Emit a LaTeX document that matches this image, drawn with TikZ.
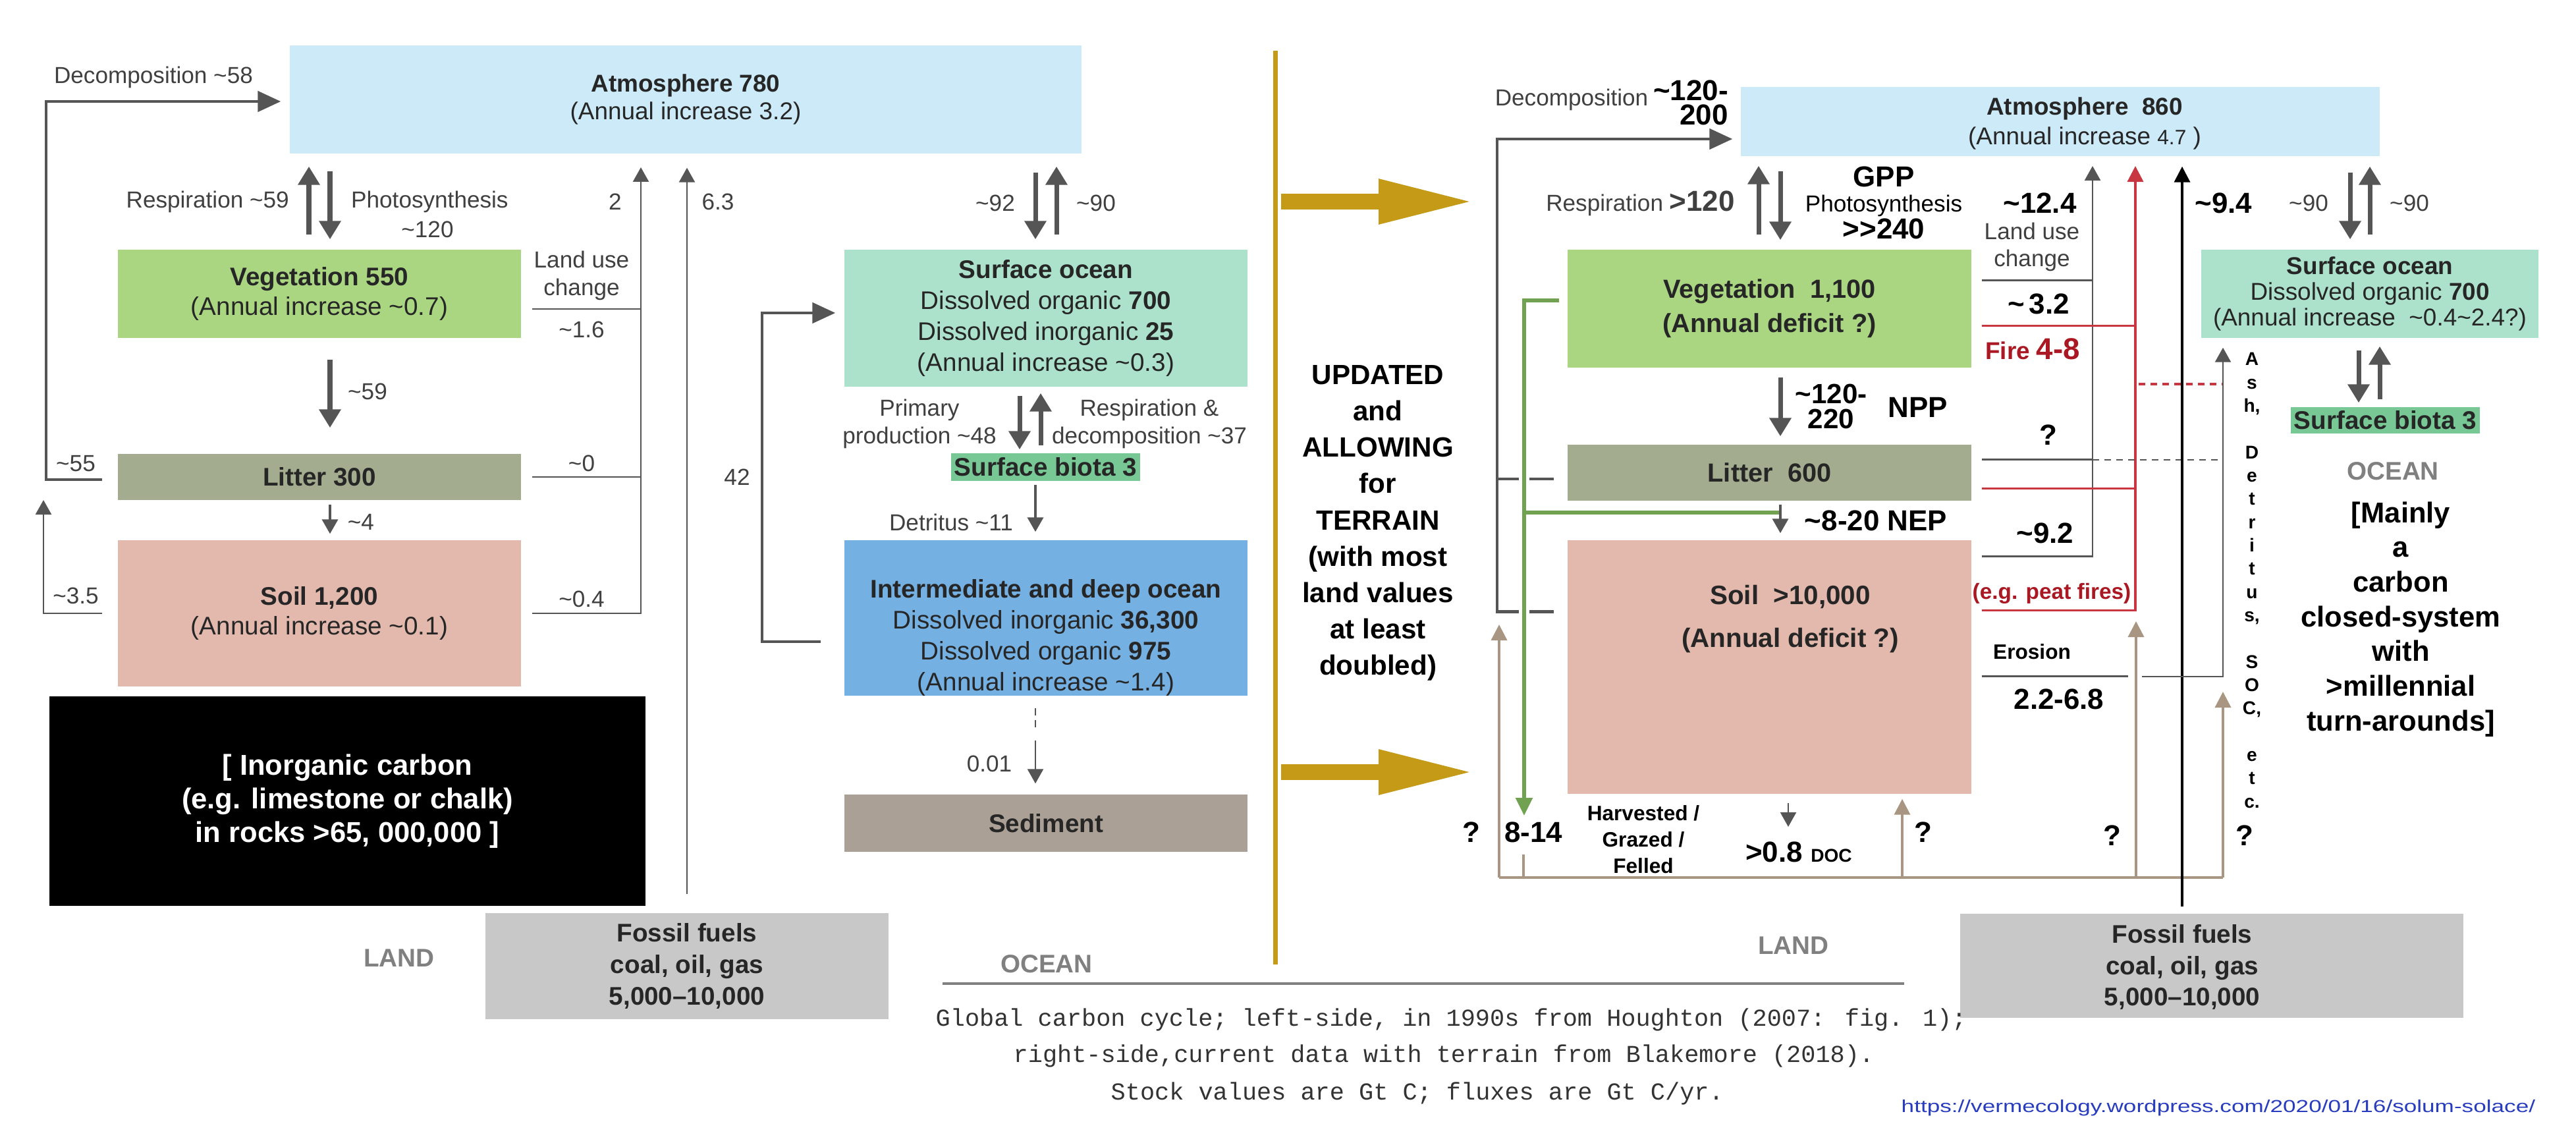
\documentclass[tikz,border=0pt]{standalone}
\usepackage{fontspec}
\setmainfont{Liberation Sans}
\newfontfamily\capfont{Liberation Mono}
\usetikzlibrary{arrows.meta}
\newcommand{\apx}{\textasciitilde}
\definecolor{atmblue}{RGB}{204,234,247}
\definecolor{veggreen}{RGB}{170,214,130}
\definecolor{littergreen}{RGB}{163,172,142}
\definecolor{soilpink}{RGB}{226,185,172}
\definecolor{surfmint}{RGB}{172,226,204}
\definecolor{biotagreen}{RGB}{120,200,150}
\definecolor{deepblue}{RGB}{116,176,226}
\definecolor{sedtan}{RGB}{170,160,150}
\definecolor{fossilgray}{RGB}{200,200,200}
\definecolor{arrowgray}{RGB}{85,85,85}
\definecolor{firered}{RGB}{200,55,65}
\definecolor{firetext}{RGB}{170,25,35}
\definecolor{tanbrown}{RGB}{168,150,130}
\definecolor{leafgreen}{RGB}{112,162,82}
\definecolor{goldtone}{RGB}{196,154,22}
\definecolor{regiongray}{RGB}{128,128,128}
\definecolor{urlblue}{RGB}{40,60,190}
\begin{document}
\begin{tikzpicture}[
    stock/.style={rectangle, inner sep=0pt, align=center, text=black!85},
    lab/.style={font=\fontsize{10}{12}\selectfont, text=black!75, inner sep=1pt},
    num/.style={font=\bfseries\fontsize{12.5}{14}\selectfont, inner sep=1pt},
    region/.style={font=\bfseries\fontsize{11}{13}\selectfont, text=regiongray},
    flowline/.style={draw=arrowgray, line width=0.7pt},
    flow/.style={flowline, -{Triangle[length=2.2mm,width=2.4mm]}},
    midflow/.style={draw=arrowgray, line width=1.1pt, -{Triangle[length=2.2mm,width=2.4mm]}},
    bigflow/.style={draw=arrowgray, line width=2pt, -{Triangle[length=2.8mm,width=3.2mm]}},
    loopline/.style={draw=arrowgray, line width=1.4pt},
    loopflow/.style={loopline, -{Triangle[length=3.5mm,width=3.1mm]}},
    leafline/.style={draw=leafgreen, line width=1.5pt},
    leafflow/.style={leafline, -{Triangle[length=2.7mm,width=2.5mm]}},
    tanline/.style={draw=tanbrown, line width=1pt},
    tanflow/.style={tanline, -{Triangle[length=2.4mm,width=2.4mm]}},
    fireline/.style={draw=firered, line width=1pt},
    fireflow/.style={fireline, -{Triangle[length=2.4mm,width=2.4mm]}},
    fossflow/.style={draw=black, line width=1pt, -{Triangle[length=2.4mm,width=2.4mm]}},
    goldline/.style={draw=goldtone, line width=2pt},
    goldflow/.style={draw=goldtone, line width=0.24cm, -{Triangle[length=1.47cm,width=0.62cm]}},
    caption/.style={font=\capfont\fontsize{10.5}{12}\selectfont, text=black!80, inner sep=0pt},
  ]
    \fill[white] (0,0) rectangle (39.11,-17.38);
    \useasboundingbox (0,0) rectangle (39.11,-17.38);

    % left: 1990s stocks
    \node[stock, fill=atmblue, minimum width=12.02cm, minimum height=1.64cm, font=\fontsize{10.5}{12}\selectfont] (atmL) at (10.41,-1.51) {\textbf{Atmosphere 780}\\(Annual increase 3.2)};
    \node[stock, fill=veggreen, minimum width=6.12cm, minimum height=1.34cm, font=\fontsize{11}{12.8}\selectfont] (vegL) at (4.85,-4.46) {\textbf{Vegetation 550}\\(Annual increase \apx0.7)};
    \node[stock, fill=littergreen, minimum width=6.12cm, minimum height=0.70cm, font=\bfseries\fontsize{11}{13}\selectfont] (litL) at (4.85,-7.24) {Litter 300};
    \node[stock, fill=soilpink, minimum width=6.12cm, minimum height=2.22cm, font=\fontsize{11}{12.8}\selectfont] (soilL) at (4.85,-9.31) {\textbf{Soil 1,200}\\(Annual increase \apx0.1)};
    \node[stock, fill=black, text=white, minimum width=9.05cm, minimum height=3.18cm, font=\bfseries\fontsize{12.4}{14.5}\selectfont] (rockL) at (5.275,-12.16) {[ Inorganic carbon\\(e.g. limestone or chalk)\\in rocks >65, 000,000 ]};
    \node[stock, fill=fossilgray, minimum width=6.12cm, minimum height=1.61cm, font=\bfseries\fontsize{11}{13.6}\selectfont] (fossL) at (10.43,-14.665) {Fossil fuels\\coal, oil, gas\\5,000--10,000};
    \node[stock, fill=surfmint, minimum width=6.12cm, minimum height=2.08cm, font=\fontsize{11}{13.4}\selectfont] (surfL) at (15.88,-4.83) {\textbf{Surface ocean}\\Dissolved organic \textbf{700}\\Dissolved inorganic \textbf{25}\\(Annual increase \apx0.3)};
    \node[stock, fill=biotagreen, minimum width=2.87cm, minimum height=0.42cm, font=\bfseries\fontsize{11}{13}\selectfont] (biotaL) at (15.875,-7.09) {Surface biota 3};
    \node[stock, fill=deepblue, minimum width=6.12cm, minimum height=2.36cm] (deepL) at (15.88,-9.38) {};
    \node[stock, font=\fontsize{11}{13.4}\selectfont] (deepTxtL) at (15.88,-9.68) {\textbf{Intermediate and deep ocean}\\Dissolved inorganic \textbf{36,300}\\Dissolved organic \textbf{975}\\(Annual increase \apx1.4)};
    \node[stock, fill=sedtan, minimum width=6.12cm, minimum height=0.87cm, font=\bfseries\fontsize{11}{13}\selectfont] (sedL) at (15.88,-12.495) {Sediment};

    % left: columns
    \coordinate (kRespL) at (4.69,0);
    \coordinate (kPhotL) at (5.01,0);
    \coordinate (kDownL) at (15.72,0);
    \coordinate (kUpL) at (16.04,0);
    \coordinate (kPrimL) at (15.48,0);
    \coordinate (kDecL) at (15.80,0);
    \coordinate (kLoopL) at (0.70,-1.54);
    \coordinate (kInL) at (0.66,-7.59);
    \coordinate (kLucL) at (9.73,-2.54);
    \coordinate (k42) at (11.57,-4.75);

    % left: fluxes
    \draw[loopflow, shorten >=1.3mm] ([shift={(-0.23,-0.04)}]litL.west) -| (kLoopL) -- (kLoopL -| atmL.west);
    \draw[flow] ([xshift=-2.3mm]soilL.west) -| (kInL);
    \draw[flow] ([xshift=1.6mm]soilL.east) -| (kLucL);
    \draw[flowline] ([xshift=1.6mm]litL.east) -- (litL.east -| kLucL);
    \draw[flowline] ([shift={(0.16,-0.23)}]vegL.east) -- ++(1.66,0);
    \draw[flow, shorten <=2.8mm, shorten >=2.1mm] (fossL.north) -- (fossL.north |- atmL.south);
    \draw[bigflow, shorten <=2.2mm, shorten >=1.9mm] (kRespL |- vegL.north) -- (kRespL |- atmL.south);
    \draw[bigflow, shorten <=2.6mm, shorten >=1.5mm] (kPhotL |- atmL.south) -- (kPhotL |- vegL.north);
    \draw[bigflow, shorten <=3.2mm, shorten >=3.9mm] (kPhotL |- vegL.south) -- (kPhotL |- litL.north);
    \draw[midflow, shorten <=0.6mm, shorten >=0.9mm] (kPhotL |- litL.south) -- (kPhotL |- soilL.north);
    \draw[bigflow, shorten <=2.8mm, shorten >=1.5mm] (kDownL |- atmL.south) -- (kDownL |- surfL.north);
    \draw[bigflow, shorten <=2.2mm, shorten >=1.9mm] (kUpL |- surfL.north) -- (kUpL |- atmL.south);
    \draw[bigflow, shorten <=1.3mm, shorten >=0.5mm] (kPrimL |- surfL.south) -- (kPrimL |- biotaL.north);
    \draw[bigflow, shorten <=1.1mm, shorten >=0.9mm] (kDecL |- biotaL.north) -- (kDecL |- surfL.south);
    \draw[midflow, shorten <=0.5mm, shorten >=1.2mm] (kDownL |- biotaL.south) -- (kDownL |- deepL.north);
    \draw[flowline, dash pattern=on 1.1mm off 0.7mm, shorten <=1.8mm, shorten >=9.6mm] (kDownL |- deepL.south) -- (kDownL |- sedL.north);
    \draw[flow, shorten <=6.7mm, shorten >=1.6mm] (kDownL |- deepL.south) -- (kDownL |- sedL.north);
    \draw[loopflow, shorten >=1.3mm] ([shift={(-0.35,-0.36)}]deepL.west) -| (k42) -- (k42 -| surfL.west);

    % left: labels
    \node[lab] (decoL) at (2.33,-1.17) {Decomposition \apx58};
    \node[lab, anchor=east] (respL) at (4.43,-3.06) {Respiration \apx59};
    \node[lab, anchor=west] (photL) at (5.29,-3.06) {Photosynthesis};
    \node[lab] (p120L) at (6.49,-3.48) {\apx120};
    \node[lab] (f2L) at (9.34,-3.06) {2};
    \node[lab] (f63L) at (10.90,-3.06) {6.3};
    \node[lab, align=center] (lucTL) at (8.83,-4.18) {Land use\\change};
    \node[lab] (f16L) at (8.83,-5.00) {\apx1.6};
    \node[lab] (f59L) at (5.58,-5.94) {\apx59};
    \node[lab] (f55L) at (1.15,-7.04) {\apx55};
    \node[lab] (f0L) at (8.83,-7.03) {\apx0};
    \node[lab] (f4L) at (5.48,-7.92) {\apx4};
    \node[lab] (f35L) at (1.15,-9.04) {\apx3.5};
    \node[lab] (f04L) at (8.83,-9.09) {\apx0.4};
    \node[lab] (f92L) at (15.11,-3.08) {\apx92};
    \node[lab] (f90L) at (16.64,-3.08) {\apx90};
    \node[lab, align=center] (primL) at (13.96,-6.43) {Primary\\production \apx48};
    \node[lab, align=center] (rdecL) at (17.45,-6.43) {Respiration \&\\decomposition \apx37};
    \node[lab] (detL) at (14.44,-7.93) {Detritus \apx11};
    \node[lab] (f001L) at (15.02,-11.59) {0.01};
    \node[lab] (f42L) at (11.19,-7.24) {42};
    \node[region] (landL) at (6.06,-14.54) {LAND};
    \node[region] (oceanL) at (15.89,-14.63) {OCEAN};

    % divider
    \draw[goldline] (19.36,-0.77) -- (19.36,-14.64);
    \draw[goldflow] (19.45,-3.06) -- (22.40,-3.06);
    \draw[goldflow] (19.45,-11.72) -- (22.40,-11.72);
    \node[align=center, font=\bfseries\fontsize{12}{15.7}\selectfont] (upd) at (20.92,-7.94) {UPDATED\\and\\ALLOWING\\for\\TERRAIN\\(with most\\land values\\at least\\doubled)};

    % right: current stocks
    \node[stock, fill=atmblue, minimum width=9.70cm, minimum height=1.05cm] (atmR) at (31.28,-1.845) {};
    \node[stock, font=\fontsize{10.5}{12.8}\selectfont] (atmTxtR) at (31.65,-1.875) {\textbf{Atmosphere\ \ 860}\\(Annual increase {\fontsize{9}{10}\selectfont 4.7} )};
    \node[stock, fill=veggreen, minimum width=6.13cm, minimum height=1.79cm, font=\bfseries\fontsize{11.3}{14.8}\selectfont] (vegR) at (26.865,-4.685) {Vegetation\ \ 1,100\\(Annual deficit ?)};
    \node[stock, fill=littergreen, minimum width=6.13cm, minimum height=0.85cm, font=\bfseries\fontsize{11.3}{13}\selectfont] (litR) at (26.865,-7.175) {Litter\ \ 600};
    \node[stock, fill=soilpink, minimum width=6.13cm, minimum height=3.85cm] (soilR) at (26.865,-10.125) {};
    \node[stock, font=\bfseries\fontsize{11.5}{18.5}\selectfont] (soilTxtR) at (27.18,-9.40) {Soil\ \ >10,000\\(Annual deficit ?)};
    \node[stock, fill=surfmint, minimum width=5.12cm, minimum height=1.34cm, font=\fontsize{10.5}{11.2}\selectfont] (surfR) at (35.98,-4.46) {\textbf{Surface ocean}\\Dissolved organic \textbf{700}\\(Annual increase\ \ \apx0.4\apx2.4?)};
    \node[stock, fill=biotagreen, minimum width=2.87cm, minimum height=0.40cm, font=\bfseries\fontsize{11}{13}\selectfont] (biotaR) at (36.215,-6.38) {Surface biota 3};
    \node[stock, fill=fossilgray, minimum width=7.64cm, minimum height=1.58cm] (fossR) at (33.58,-14.66) {};
    \node[stock, font=\bfseries\fontsize{11}{13.6}\selectfont] (fossTxtR) at (33.13,-14.68) {Fossil fuels\\coal, oil, gas\\5,000--10,000};

    % right: columns
    \coordinate (kLoopR) at (22.73,-2.11);
    \coordinate (kRespR) at (26.70,0);
    \coordinate (kPhotR) at (27.03,0);
    \coordinate (kDocR) at (27.15,0);
    \coordinate (kDocTip) at (27.15,-12.55);
    \coordinate (kLeaf) at (23.14,-12.38);
    \coordinate (kLeafB) at (23.14,-7.78);
    \coordinate (kLucR) at (31.77,-2.52);
    \coordinate (kFireR) at (32.42,-2.52);
    \coordinate (kFossR) at (33.13,0);
    \coordinate (kAshR) at (33.75,0);
    \coordinate (kEroR) at (32.52,-10.27);
    \coordinate (kDownR) at (35.68,0);
    \coordinate (kUpR) at (35.98,0);
    \coordinate (kPrimR) at (35.81,0);
    \coordinate (kDecR) at (36.13,0);
    \coordinate (kTanL) at (22.76,-13.32);
    \coordinate (kTanR) at (33.75,-13.32);
    \coordinate (kTanB) at (23.13,-12.97);
    \coordinate (kTanC) at (28.88,-13.32);
    \coordinate (kTanD) at (32.43,-13.32);

    % right: land fluxes
    \draw[loopflow, shorten >=1.2mm] ([shift={(-0.2,-1.09)}]soilR.north west) -| (kLoopR) -- (kLoopR -| atmR.west);
    \draw[loopline] ([shift={(-0.2,-0.095)}]litR.west) -- ++(-0.87,0);
    \draw[leafflow, preaction={draw=white, line width=4.8pt, -}] ([shift={(-0.12,0.125)}]vegR.west) -| (kLeaf);
    \draw[leafline] (kLeafB) -- (kLeafB -| kPhotR);
    \draw[bigflow, shorten <=2.2mm, shorten >=1.4mm] (kRespR |- vegR.north) -- (kRespR |- atmR.south);
    \draw[bigflow, shorten <=2.2mm, shorten >=1.4mm] (kPhotR |- atmR.south) -- (kPhotR |- vegR.north);
    \draw[bigflow, shorten <=1.4mm, shorten >=1.2mm] (kPhotR |- vegR.south) -- (kPhotR |- litR.north);
    \draw[midflow, shorten <=0.5mm, shorten >=1.0mm] (kPhotR |- litR.south) -- (kPhotR |- soilR.north);
    \draw[flow, shorten <=1.3mm] (kDocR |- soilR.south) -- (kDocTip);

    % right: terrain returns
    \draw[tanline] (kTanL) -- (kTanR);
    \draw[tanflow] (kTanL) -- ++(0,3.84);
    \draw[tanline] (kTanB) -- (kTanB |- kTanL);
    \draw[tanflow, shorten >=0.7mm] (kTanC) -- (kTanC |- soilR.south);
    \draw[tanflow] (kTanD) -- ++(0,3.89);
    \draw[tanflow] (kTanR) -- ++(0,2.82);

    % right: land use, fire, fossil, erosion
    \draw[flow] ([shift={(0.15,-0.25)}]soilR.north east) -| (kLucR);
    \draw[flowline] ([shift={(0.15,-0.23)}]litR.north east) -- ++(1.69,0);
    \draw[flowline] ([shift={(0.15,-0.47)}]vegR.north east) -- ++(1.69,0);
    \draw[fireflow] ([shift={(0.15,-1.07)}]soilR.north east) -| (kFireR);
    \draw[fireline] ([shift={(0.15,-0.67)}]litR.north east) -- ++(2.34,0);
    \draw[fireline] ([shift={(0.15,-1.16)}]vegR.north east) -- ++(2.34,0);
    \draw[fireline, dash pattern=on 1mm off 0.8mm] (32.47,-5.83) -- (33.75,-5.83);
    \draw[flowline, dash pattern=on 1mm off 0.8mm] (31.77,-6.98) -- (33.75,-6.98);
    \draw[fossflow, shorten <=1mm, shorten >=1.5mm] (kFossR |- fossR.north) -- (kFossR |- atmR.south);
    \draw[flowline] ([shift={(0.15,-2.07)}]soilR.north east) -- ++(2.22,0);
    \draw[flow, shorten >=1.4mm] (kEroR) -| (kAshR |- surfR.south);

    % right: ocean fluxes
    \draw[bigflow, shorten <=2.4mm, shorten >=1.5mm] (kDownR |- atmR.south) -- (kDownR |- surfR.north);
    \draw[bigflow, shorten <=2.2mm, shorten >=1.5mm] (kUpR |- surfR.north) -- (kUpR |- atmR.south);
    \draw[bigflow, shorten <=1.8mm, shorten >=0.6mm] (kPrimR |- surfR.south) -- (kPrimR |- biotaR.north);
    \draw[bigflow, shorten <=1.1mm, shorten >=1.2mm] (kDecR |- biotaR.north) -- (kDecR |- surfR.south);

    % right: labels
    \node[lab] (decoR) at (23.86,-1.51) {Decomposition};
    \node[num, align=right, anchor=east, font=\bfseries\fontsize{12.5}{10.5}\selectfont] (f120R) at (26.28,-1.555) {\apx120-\\200};
    \node[lab, anchor=east] (respR) at (26.38,-3.09) {Respiration \textbf{\fontsize{12.5}{14}\selectfont >120}};
    \node[align=center, inner sep=1pt, font=\fontsize{10}{10.8}\selectfont] (gppR) at (28.60,-3.08) {\textbf{\fontsize{12.5}{10.8}\selectfont GPP}\\Photosynthesis\\\textbf{\fontsize{12.5}{10.8}\selectfont >{}>240}};
    \node[num, align=center, font=\bfseries\fontsize{12}{11}\selectfont] (nppNumR) at (27.80,-6.17) {\apx120-\\220};
    \node[num] (nppR) at (29.12,-6.18) {NPP};
    \node[num] (nepR) at (28.48,-7.90) {\apx8-20 NEP};
    \node[num] (f124R) at (30.97,-3.08) {\apx12.4};
    \node[lab, align=center, font=\fontsize{10}{11.9}\selectfont] (lucTR) at (30.85,-3.75) {Land use\\change};
    \node[num] (f32R) at (30.95,-4.61) {\apx\,3.2};
    \node[inner sep=1pt, text=firetext] (fireLab) at (30.86,-5.30) {\textbf{\fontsize{10.5}{12}\selectfont Fire} \textbf{\fontsize{13}{14}\selectfont 4-8}};
    \node[num] (qLitR) at (31.10,-6.60) {?};
    \node[num] (f92R) at (31.05,-8.09) {\apx9.2};
    \node[inner sep=1pt, text=firetext, font=\bfseries\fontsize{9.5}{11}\selectfont] (peatR) at (31.15,-9.01) {(e.g. peat fires)};
    \node[inner sep=1pt, font=\bfseries\fontsize{9}{11}\selectfont] (eroLab) at (30.85,-9.89) {Erosion};
    \node[num] (f226R) at (31.26,-10.61) {2.2-6.8};
    \node[num] (f94R) at (33.76,-3.08) {\apx9.4};
    \node[lab] (f90aR) at (35.05,-3.08) {\apx90};
    \node[lab] (f90bR) at (36.58,-3.08) {\apx90};
    \node[align=center, inner sep=0pt, font=\bfseries\fontsize{8}{10.05}\selectfont] (ashTxt) at (34.19,-8.81) {A\\s\\h,\\[10.05pt]D\\e\\t\\r\\i\\t\\u\\s,\\[10.05pt]S\\O\\C,\\[10.05pt]e\\t\\c.};
    \node[region] (oceanR) at (36.33,-7.15) {OCEAN};
    \node[align=center, font=\bfseries\fontsize{12.4}{15}\selectfont] (closedR) at (36.45,-9.40) {[Mainly\\a\\carbon\\closed-system\\with\\>millennial\\turn-arounds]};
    \node[num] (q1R) at (22.34,-12.63) {?};
    \node[num] (q814R) at (23.28,-12.63) {8-14};
    \node[align=center, inner sep=0pt, font=\bfseries\fontsize{9}{11.4}\selectfont] (harvR) at (24.95,-12.74) {Harvested /\\Grazed /\\Felled};
    \node[num] (docLab) at (27.31,-12.93) {>0.8 {\fontsize{8}{9}\selectfont DOC}};
    \node[num] (q2R) at (29.20,-12.63) {?};
    \node[num] (q3R) at (32.07,-12.68) {?};
    \node[num] (q4R) at (34.08,-12.68) {?};
    \node[region] (landR) at (27.23,-14.35) {LAND};

    % caption
    \draw[draw=regiongray, line width=1pt] (14.31,-14.93) -- (28.91,-14.93);
    \node[caption, anchor=west] (cap1) at (14.20,-15.48) {Global carbon cycle; left-side, in 1990s from Houghton (2007: fig. 1);};
    \node[caption, anchor=west] (cap2) at (15.38,-16.03) {right-side,current data with terrain from Blakemore (2018).};
    \node[caption, anchor=west] (cap3) at (16.86,-16.60) {Stock values are Gt C; fluxes are Gt C/yr.};
    \node[anchor=west, inner sep=0pt, text=urlblue, font=\fontsize{10}{12}\selectfont] (url) at (28.86,-16.82) {\scalebox{1}[0.75]{https://vermecology.wordpress.com/2020/01/16/solum-solace/}};
\end{tikzpicture}
\end{document}
